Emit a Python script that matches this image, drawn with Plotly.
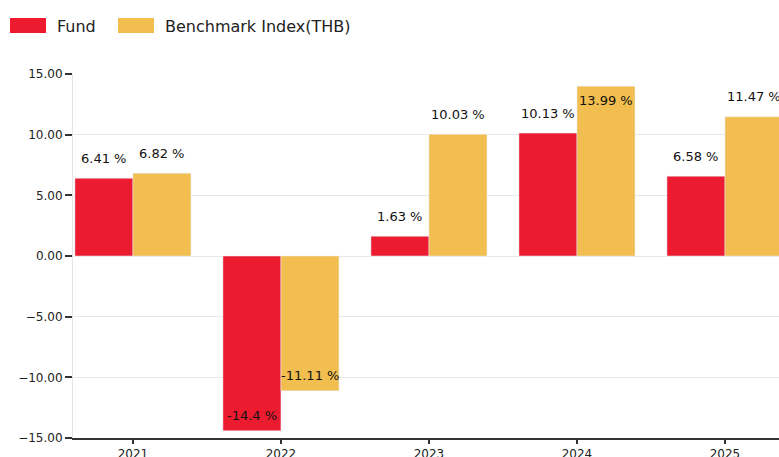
import plotly.graph_objects as go

# Calendar-year returns (%)
years = ["2021", "2022", "2023", "2024", "2025"]
fund = [6.41, -14.4, 1.63, 10.13, 6.58]
benchmark = [6.82, -11.11, 10.03, 13.99, 11.47]
series_names = ["Fund", "Benchmark Index(THB)"]
y_ticks = [-15, -10, -5, 0, 5, 10, 15]

RED = "#ED1B2F"
YELLOW = "#F2BE4F"
FONT = "DejaVu Sans"

W, H = 779, 457
M_L, M_R, M_T, M_B = 73, 0, 74, 19
Y_MIN, Y_MAX = -15, 15
X_RANGE = [-0.405, 4.365]
BARGAP = 0.216
half = (1 - BARGAP) / 4  # offset of each bar centre from the category centre

xs = list(range(len(years)))

fig = go.Figure()
fig.add_trace(go.Bar(x=xs, y=fund, name=series_names[0], marker_color=RED,
                     showlegend=False, hoverinfo="x+y"))
fig.add_trace(go.Bar(x=xs, y=benchmark, name=series_names[1], marker_color=YELLOW,
                     showlegend=False, hoverinfo="x+y"))

# value labels: above positive bars (inside if no room), inside the tip of negative bars
plot_h = H - M_T - M_B
px_per_unit = plot_h / (Y_MAX - Y_MIN)
annotations = []
for values, off in ((fund, -half), (benchmark, half)):
    for i, v in enumerate(values):
        if v >= 0:
            room = (Y_MAX - v) * px_per_unit
            shift = 20 if room > 28 else -14
        else:
            shift = 15
        annotations.append(dict(
            x=i + off, y=v, xref="x", yref="y",
            text=f"{v:g} %", showarrow=False, yanchor="middle", yshift=shift,
            font=dict(family=FONT, size=13, color="#111"),
        ))

# custom legend with wide swatches
plot_w = W - M_L - M_R
def px_x(p):
    return (p - M_L) / plot_w
def px_y(p):
    return (H - M_B - p) / plot_h

shapes = []
for (x0, x1, tx), color, label in zip(((10, 46, 55), (118, 154, 163)), (RED, YELLOW), series_names):
    shapes.append(dict(type="rect", xref="paper", yref="paper",
                       x0=px_x(x0), x1=px_x(x1), y0=px_y(33), y1=px_y(18),
                       fillcolor=color, line=dict(width=0)))
    annotations.append(dict(x=px_x(tx), y=px_y(26), xref="paper", yref="paper",
                            text=label, showarrow=False, xanchor="left", yanchor="middle",
                            font=dict(family=FONT, size=16, color="#222")))

fig.update_layout(
    width=W, height=H,
    margin=dict(l=M_L, r=M_R, t=M_T, b=M_B, autoexpand=False),
    paper_bgcolor="white", plot_bgcolor="white",
    barmode="group", bargap=BARGAP, bargroupgap=0,
    font=dict(family=FONT, size=12, color="#222"),
    annotations=annotations, shapes=shapes,
    showlegend=False,
)
fig.update_xaxes(
    range=X_RANGE, tickmode="array", tickvals=xs, ticktext=years,
    showgrid=False, zeroline=False, automargin=False,
    showline=True, linecolor="#333", linewidth=1.5,
    ticks="outside", ticklen=4, tickcolor="#333", tickwidth=1.5,
    tickfont=dict(family=FONT, size=12, color="#222"),
)
fig.update_yaxes(
    range=[Y_MIN, Y_MAX], tickmode="array", tickvals=y_ticks, tickformat=".2f",
    showgrid=True, gridcolor="#e8e8e8", gridwidth=1,
    zeroline=True, zerolinecolor="#e8e8e8", zerolinewidth=1, automargin=False,
    showline=True, linecolor="#e4e4e4", linewidth=1,
    ticks="outside", ticklen=7, tickcolor="#333", tickwidth=1.5,
    tickfont=dict(family=FONT, size=12, color="#222"),
)

fig.write_html("out.html")
